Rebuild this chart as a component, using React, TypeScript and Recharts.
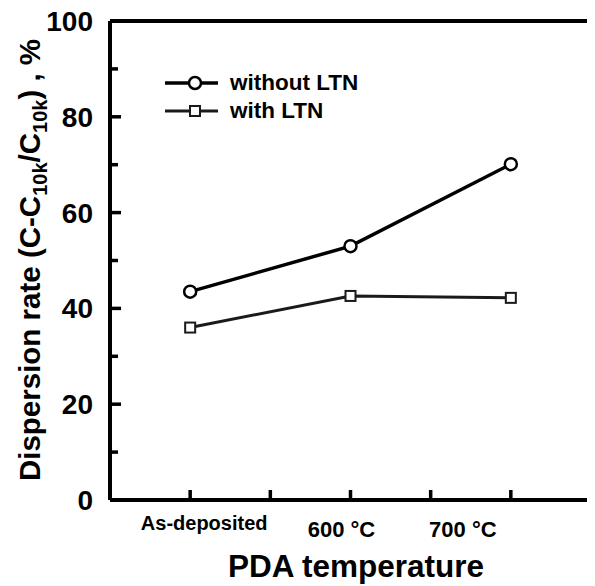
import React from "react";
import {
  LineChart,
  Line,
  XAxis,
  YAxis,
  Legend,
  Label,
  ReferenceLine,
} from "recharts";

const categories = ["As-deposited", "600 °C", "700 °C"];
const withoutLTN = [43.5, 53, 70.1];
const withLTN = [36, 42.6, 42.2];
const yTicks = [0, 10, 20, 30, 40, 50, 60, 70, 80, 90, 100];
const xTicks = [1, 1.5, 2, 2.5, 3];

const data = categories.map((c, i) => ({
  x: i + 1,
  name: c,
  without: withoutLTN[i],
  with: withLTN[i],
}));

const FONT = "'Liberation Sans', Arial, sans-serif";

// label placement tweaks so they sit like in the original figure
const xLabelShift = [14, -9, -48];
const xLabelBase = [30, 37, 37];
const xLabelSize = [20, 22, 22];

const XTick = (props: any) => {
  const { x, y, payload } = props;
  const v = payload.value;
  const i = Number.isInteger(v) ? v - 1 : -1;
  return (
    <g>
      <line x1={x} x2={x} y1={y} y2={y - 10} stroke="#000" strokeWidth={3.5} />
      {i >= 0 && (
        <text
          x={x + xLabelShift[i]}
          y={y + xLabelBase[i]}
          textAnchor="middle"
          fontFamily={FONT}
          fontWeight="bold"
          fontSize={xLabelSize[i]}
          fill="#000"
        >
          {categories[i]}
        </text>
      )}
    </g>
  );
};

const YTickLeft = (props: any) => {
  const { x, y, payload } = props;
  const major = payload.value % 20 === 0;
  return (
    <g>
      <line x1={x} x2={x + (major ? 11 : 8)} y1={y} y2={y} stroke="#000" strokeWidth={3.5} />
      {major && (
        <text
          x={x - 17}
          y={y}
          dy="0.36em"
          textAnchor="end"
          fontFamily={FONT}
          fontWeight="bold"
          fontSize={28}
          fill="#000"
        >
          {payload.value}
        </text>
      )}
    </g>
  );
};

const YTickRight = (props: any) => {
  const { x, y } = props;
  return <line x1={x} x2={x - 6} y1={y} y2={y} stroke="#000" strokeWidth={3.5} />;
};

const YTitle = () => {
  const cx = 32;
  const cy = 252;
  return (
    <text
      x={cx}
      y={cy}
      transform={`rotate(-90, ${cx}, ${cy})`}
      textAnchor="middle"
      fontFamily={FONT}
      fontWeight="bold"
      fontSize={29.5}
      fill="#000"
    >
      Dispersion rate (C-C
      <tspan fontSize={20} dy={7}>10k</tspan>
      <tspan dy={-7}>/C</tspan>
      <tspan fontSize={20} dy={7}>10k</tspan>
      <tspan dy={-7}>) , %</tspan>
    </text>
  );
};

const XTitle = () => (
  <text
    x={348}
    y={569}
    textAnchor="middle"
    fontFamily={FONT}
    fontWeight="bold"
    fontSize={31.5}
    fill="#000"
  >
    PDA temperature
  </text>
);

const CircleDot = (props: any) => {
  const { cx, cy, index } = props;
  return <circle key={`c${index}`} cx={cx} cy={cy} r={6} fill="#fff" stroke="#000" strokeWidth={2.5} />;
};

const SquareDot = (props: any) => {
  const { cx, cy, index } = props;
  return (
    <rect key={`s${index}`} x={cx - 5} y={cy - 5} width={10} height={10} fill="#fff" stroke="#1a1a1a" strokeWidth={2} />
  );
};

const LegendBox = () => (
  <div style={{ fontFamily: FONT, fontWeight: "bold", fontSize: 22.5, color: "#000" }}>
    <div style={{ display: "flex", alignItems: "center", height: 28 }}>
      <svg width={65} height={20}>
        <line x1={0} x2={53} y1={10} y2={10} stroke="#000" strokeWidth={3.5} />
        <circle cx={30} cy={10} r={6} fill="#fff" stroke="#000" strokeWidth={2.5} />
      </svg>
      <span>without LTN</span>
    </div>
    <div style={{ display: "flex", alignItems: "center", height: 28 }}>
      <svg width={65} height={20}>
        <line x1={0} x2={53} y1={10} y2={10} stroke="#1a1a1a" strokeWidth={3} />
        <rect x={25} y={5} width={10} height={10} fill="#fff" stroke="#1a1a1a" strokeWidth={2} />
      </svg>
      <span>with LTN</span>
    </div>
  </div>
);

const App: React.FC = () => {
  return (
    <LineChart
      width={587}
      height={578}
      data={data}
      margin={{ top: 13, right: 0, bottom: 0, left: 0 }}
    >
      <XAxis
        dataKey="x"
        type="number"
        domain={[0.5, 3.5]}
        ticks={xTicks}
        height={86}
        tickSize={0}
        tickMargin={0}
        tickLine={false}
        axisLine={{ stroke: "#000", strokeWidth: 4 }}
        tick={<XTick />}
        interval={0}
      >
        <Label content={<XTitle />} />
      </XAxis>
      <YAxis
        domain={[0, 100]}
        ticks={yTicks}
        width={102}
        tickSize={0}
        tickMargin={0}
        tickLine={false}
        axisLine={{ stroke: "#000", strokeWidth: 4 }}
        tick={<YTickLeft />}
        interval={0}
      >
        <Label content={<YTitle />} />
      </YAxis>
      <YAxis
        yAxisId="right"
        orientation="right"
        domain={[0, 100]}
        ticks={yTicks}
        width={4}
        tickSize={0}
        tickMargin={0}
        tickLine={false}
        axisLine={{ stroke: "#000", strokeWidth: 4 }}
        tick={<YTickRight />}
        interval={0}
      />
      <ReferenceLine y={100} stroke="#000" strokeWidth={4} />
      <Legend
        content={<LegendBox />}
        layout="vertical"
        verticalAlign="middle"
        align="center"
        wrapperStyle={{ top: 61, left: 157, width: 230 }}
      />
      <Line
        dataKey="without"
        stroke="#000"
        strokeWidth={3.5}
        dot={<CircleDot />}
        activeDot={false}
        isAnimationActive={false}
      />
      <Line
        dataKey="with"
        stroke="#1a1a1a"
        strokeWidth={3}
        dot={<SquareDot />}
        activeDot={false}
        isAnimationActive={false}
      />
    </LineChart>
  );
};

export default App;
